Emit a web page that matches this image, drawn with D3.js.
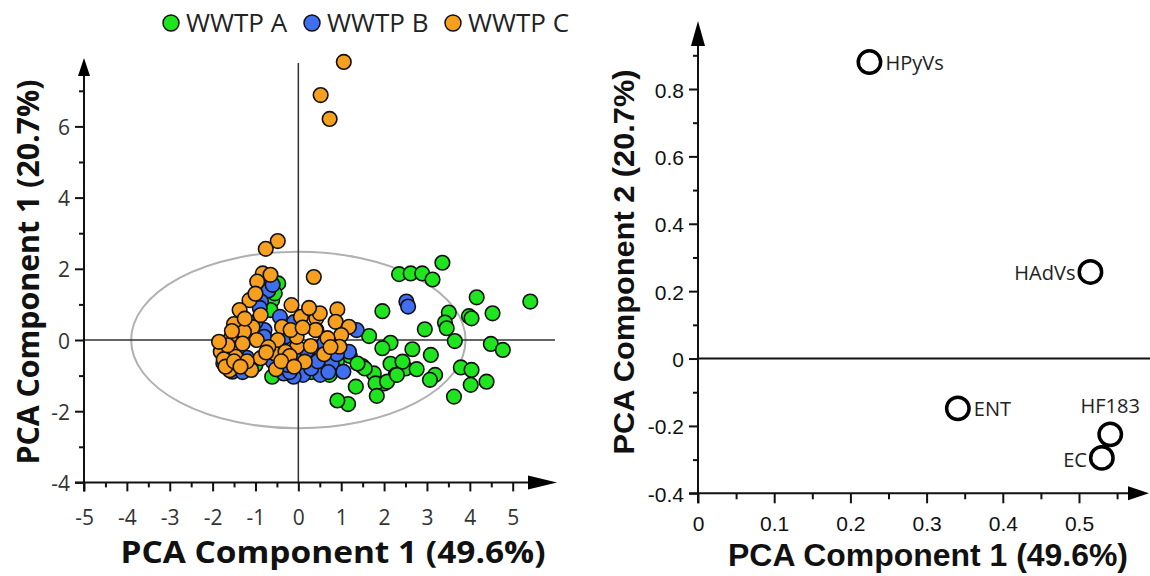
<!DOCTYPE html>
<html>
<head>
<meta charset="utf-8">
<script src="https://cdn.jsdelivr.net/npm/d3@7"></script>
<style>
  body { margin: 0; background: #fff; }
  svg { display: block; }
</style>
</head>
<body>
<script>
// sample scores, PC1 / PC2
var wwtpA = [
  [3.36,2.17],[2.35,1.85],[2.62,1.87],[2.89,1.87],[3.13,1.70],
  [1.96,0.81],[4.16,1.20],[5.41,1.08],[3.51,0.77],[3.98,0.67],[4.04,0.61],[4.53,0.75],
  [3.42,0.49],[3.46,0.33],[2.95,0.30],[3.65,-0.03],[4.49,-0.11],[4.77,-0.28],
  [1.65,0.11],[2.15,-0.08],[1.96,-0.23],[2.66,-0.26],[3.09,-0.42],
  [1.49,-0.73],[1.76,-0.94],[2.15,-0.67],[2.27,-0.98],[2.50,-0.80],[2.76,-0.82],[2.43,-0.61],
  [2.00,-1.22],[1.80,-1.22],[3.19,-0.98],[3.07,-1.12],[3.79,-0.77],[4.04,-0.84],[4.02,-1.26],[4.39,-1.17],
  [3.63,-1.59],[1.34,-1.31],[1.83,-1.57],[1.16,-1.80],[0.91,-1.70],
  [2.07,-1.17],[2.30,-0.98],[1.55,-0.80],[1.20,-0.45],
  [-0.47,1.59],[-0.61,1.12],[-0.65,0.84],[-0.61,-1.03],[0.73,-0.98],[1.38,-0.66],[-0.55,1.31],
  [0.90,-0.60],[-1.00,-0.70],[0.30,-0.90]
];
var wwtpB = [
  [2.52,1.08],[2.56,0.94],
  [-0.70,1.39],[-0.87,1.08],[-0.79,0.28],[1.36,0.28],[0.55,-0.37],[0.78,-0.66],[1.05,-0.89],
  [0.51,-0.98],[0.11,-0.98],[-0.11,-1.03],[-0.34,-0.94],[-1.54,-0.89],[1.18,-0.33],[-0.43,0.65],[-0.80,0.09],
  [-0.20,-0.90],[0.30,-0.80],[0.00,-0.50],[-0.60,-0.60],[-1.20,-0.50],[-1.00,0.50],[-0.90,0.90],[-0.60,1.55],
  [0.60,-0.10],[0.90,-0.40],[-0.30,0.10],[-1.60,-0.60],[-1.30,-0.90],[0.20,-0.30],[-0.10,0.50],[0.70,-0.90],
  [-0.50,-0.40],[-0.25,-0.70],[0.45,-0.60],[-1.40,0.10],[-1.75,-0.65]
];
var wwtpC = [
  [1.06,7.81],[0.52,6.88],[0.73,6.21],[-0.48,2.78],[-0.76,2.56],[0.36,1.77],
  [-0.83,1.87],[-0.65,1.83],[-0.96,1.64],[-1.14,1.12],[-1.37,0.84],[-1.50,0.45],[-1.59,0.02],[-1.81,-0.33],
  [-0.16,0.98],[0.91,0.86],[-0.38,0.37],[-0.88,0.70],[-1.10,0.28],[0.06,0.65],[0.42,0.61],[0.42,0.28],
  [0.87,0.51],[1.18,0.37],[1.00,0.14],[0.96,-0.19],[-0.56,-0.37],[-0.03,-0.19],[-0.88,-0.51],[-1.10,-0.84],
  [-0.52,-0.82],[0.15,-0.61],[-1.42,-0.23],[-1.07,0.36],[-0.97,0.00],[-0.48,0.00],[-0.04,0.09],[0.29,-0.17],
  [-0.30,-0.33],[-1.46,-0.47],[0.68,0.05],[-1.54,-0.70],[-1.74,-0.54],[-1.27,0.23],[-0.18,0.28],[0.40,0.28],
  [-1.65,-0.15],[-1.30,-0.10],[-1.20,-0.60],[-0.70,-0.20],[-0.20,-0.45],[0.10,0.35],[0.60,-0.40],[-1.55,0.25],
  [-1.00,1.30],[-0.75,-0.35],[-1.85,-0.05],[-1.60,-0.85],[-0.40,-0.60],[0.50,0.75],[0.25,0.90],[-1.25,0.60],
  [-0.10,-0.75],[0.75,-0.20],[-1.70,-0.75],[-1.50,-0.60],[-1.35,-0.75]
];
var groups = ["WWTP A", "WWTP B", "WWTP C"];
var groupColors = ["#1fe51f", "#3f6ef0", "#f7a01f"];

// loadings
var loadNames = ["HPyVs", "HAdVs", "ENT", "HF183", "EC"];
var loadX = [0.225, 0.515, 0.341, 0.541, 0.530];
var loadY = [0.880, 0.257, -0.148, -0.225, -0.295];

var xTicksL = d3.range(-5, 5.01, 0.5);
var yTicksL = d3.range(-4, 7.01, 1);
var xTicksR = d3.range(0, 0.551, 0.05);
var yTicksR = d3.range(-0.4, 0.901, 0.1);

var width = 1150, height = 576;
var sans = "'Open Sans', 'Noto Sans', sans-serif";
var arial = "'Liberation Sans', Arial, sans-serif";

var svg = d3.select("body").append("svg")
  .attr("width", width)
  .attr("height", height);

function isMajor(d, step) {
  return Math.abs(d / step - Math.round(d / step)) < 1e-6;
}
// plain hyphen minus like the original
function fmt(d) {
  return String(+d.toFixed(1));
}

// ---------- left: scores ----------
var xL = d3.scaleLinear().domain([-5, 5]).range([84, 512.7]);
var yL = d3.scaleLinear().domain([-4, 8]).range([482.4, 55.2]);

var left = svg.append("g");

// ellipse
left.append("ellipse")
  .attr("cx", xL(0)).attr("cy", yL(0))
  .attr("rx", xL(3.9) - xL(0)).attr("ry", yL(0) - yL(2.48))
  .attr("fill", "none").attr("stroke", "#b0b0b0").attr("stroke-width", 2);

// zero lines
left.append("line")
  .attr("x1", xL(0)).attr("x2", xL(0))
  .attr("y1", yL(-4)).attr("y2", 63)
  .attr("stroke", "#333").attr("stroke-width", 1.5);
left.append("line")
  .attr("x1", xL(-5)).attr("x2", 555)
  .attr("y1", yL(0)).attr("y2", yL(0))
  .attr("stroke", "#333").attr("stroke-width", 1.5);

// x axis
var gxL = left.append("g")
  .attr("transform", "translate(0," + yL(-4) + ")")
  .call(d3.axisBottom(xL).tickValues(xTicksL).tickSize(9)
    .tickFormat(d => isMajor(d, 1) ? fmt(d) : ""));
gxL.select(".domain").remove();
gxL.selectAll(".tick line")
  .attr("y2", d => isMajor(d, 1) ? 9 : 5)
  .attr("stroke", "#111").attr("stroke-width", 2);
gxL.selectAll(".tick text")
  .attr("y", 0).attr("dy", 43)
  .attr("fill", "#333")
  .style("font-family", sans).style("font-size", "21px");

// y axis
var gyL = left.append("g")
  .attr("transform", "translate(" + xL(-5) + ",0)")
  .call(d3.axisLeft(yL).tickValues(yTicksL).tickSize(8)
    .tickFormat(d => isMajor(d, 2) ? fmt(d) : ""));
gyL.select(".domain").remove();
gyL.selectAll(".tick line")
  .attr("x2", d => isMajor(d, 2) ? -9 : -5)
  .attr("stroke", "#111").attr("stroke-width", 2);
gyL.selectAll(".tick text")
  .attr("x", -14).attr("dy", 8)
  .attr("fill", "#333")
  .style("font-family", sans).style("font-size", "21px");

// axis lines + arrows
left.append("line")
  .attr("x1", 75).attr("x2", 540)
  .attr("y1", yL(-4)).attr("y2", yL(-4))
  .attr("stroke", "#111").attr("stroke-width", 2);
left.append("path")
  .attr("d", "M" + 528 + "," + (yL(-4) - 7) + "L" + 557 + "," + yL(-4) + "L" + 528 + "," + (yL(-4) + 7) + "Z")
  .attr("fill", "#000");
left.append("line")
  .attr("x1", xL(-5)).attr("x2", xL(-5))
  .attr("y1", yL(-4) + 9).attr("y2", 70)
  .attr("stroke", "#111").attr("stroke-width", 2);
left.append("path")
  .attr("d", "M" + (xL(-5) - 6) + ",76L" + xL(-5) + ",58L" + (xL(-5) + 6) + ",76Z")
  .attr("fill", "#000");

// points, A then B then C
[wwtpA, wwtpB, wwtpC].forEach(function(data, i) {
  left.append("g").selectAll("circle")
    .data(data)
    .enter().append("circle")
      .attr("cx", d => xL(d[0]))
      .attr("cy", d => yL(d[1]))
      .attr("r", 7.3)
      .attr("fill", groupColors[i])
      .attr("stroke", "#111")
      .attr("stroke-width", 1.6);
});

// legend
var legX = [171, 312, 453];
var leg = left.append("g").selectAll("g")
  .data(groups)
  .enter().append("g")
    .attr("transform", (d, i) => "translate(" + legX[i] + ",23)");
leg.append("circle")
  .attr("r", 8)
  .attr("fill", (d, i) => groupColors[i])
  .attr("stroke", "#111").attr("stroke-width", 1.5);
leg.append("text")
  .attr("x", 15).attr("y", 9)
  .style("font-family", sans).style("font-size", "26px")
  .attr("fill", "#222")
  .text(d => d);

// titles
left.append("text")
  .attr("x", 333).attr("y", 563)
  .attr("text-anchor", "middle")
  .attr("textLength", 425).attr("lengthAdjust", "spacingAndGlyphs")
  .style("font-family", sans).style("font-size", "31px").style("font-weight", "bold")
  .attr("fill", "#111")
  .text("PCA Component 1 (49.6%)");
left.append("text")
  .attr("transform", "translate(39,272) rotate(-90)")
  .attr("text-anchor", "middle")
  .attr("textLength", 385).attr("lengthAdjust", "spacingAndGlyphs")
  .style("font-family", sans).style("font-size", "30px").style("font-weight", "bold")
  .attr("fill", "#111")
  .text("PCA Component 1 (20.7%)");

// ---------- right: loadings ----------
var xR = d3.scaleLinear().domain([0, 0.5]).range([698, 1079]);
var yR = d3.scaleLinear().domain([-0.4, 0.8]).range([493.3, 89]);

var right = svg.append("g");

right.append("line")
  .attr("x1", xR(0)).attr("x2", 1150)
  .attr("y1", yR(0)).attr("y2", yR(0))
  .attr("stroke", "#111").attr("stroke-width", 2);

var gxR = right.append("g")
  .attr("transform", "translate(0," + yR(-0.4) + ")")
  .call(d3.axisBottom(xR).tickValues(xTicksR).tickSize(10)
    .tickFormat(d => isMajor(d, 0.1) ? fmt(d) : ""));
gxR.select(".domain").remove();
gxR.selectAll(".tick line")
  .attr("y2", d => isMajor(d, 0.1) ? 10 : 6)
  .attr("stroke", "#111").attr("stroke-width", 2);
gxR.selectAll(".tick text")
  .attr("y", 0).attr("dy", 38)
  .attr("fill", "#111")
  .style("font-family", arial).style("font-size", "21px");

var gyR = right.append("g")
  .attr("transform", "translate(" + xR(0) + ",0)")
  .call(d3.axisLeft(yR).tickValues(yTicksR).tickSize(8)
    .tickFormat(d => isMajor(d, 0.2) ? fmt(d) : ""));
gyR.select(".domain").remove();
gyR.selectAll(".tick line")
  .attr("x2", d => isMajor(d, 0.2) ? -9 : -5)
  .attr("stroke", "#111").attr("stroke-width", 2);
gyR.selectAll(".tick text")
  .attr("x", -14).attr("dy", 8)
  .attr("fill", "#111")
  .style("font-family", arial).style("font-size", "21px");

right.append("line")
  .attr("x1", xR(0) - 9).attr("x2", 1132)
  .attr("y1", yR(-0.4)).attr("y2", yR(-0.4))
  .attr("stroke", "#111").attr("stroke-width", 2);
right.append("path")
  .attr("d", "M1128," + (yR(-0.4) - 7) + "L1149," + yR(-0.4) + "L1128," + (yR(-0.4) + 7) + "Z")
  .attr("fill", "#000");
right.append("line")
  .attr("x1", xR(0)).attr("x2", xR(0))
  .attr("y1", yR(-0.4) + 10).attr("y2", 40)
  .attr("stroke", "#111").attr("stroke-width", 2);
right.append("path")
  .attr("d", "M" + (xR(0) - 7) + ",46L" + xR(0) + ",21L" + (xR(0) + 7) + ",46Z")
  .attr("fill", "#000");

// loading markers
var loads = loadNames.map((n, i) => ({ name: n, x: loadX[i], y: loadY[i] }));
var labelDx = [16, -15, 16, 0, -15];
var labelDy = [8, 8, 8, -21, 9];
var labelAnchor = ["start", "end", "start", "middle", "end"];

right.append("g").selectAll("circle")
  .data(loads)
  .enter().append("circle")
    .attr("cx", d => xR(d.x))
    .attr("cy", d => yR(d.y))
    .attr("r", 11.2)
    .attr("fill", "#fff")
    .attr("stroke", "#000")
    .attr("stroke-width", 3.5);
right.append("g").selectAll("text")
  .data(loads)
  .enter().append("text")
    .attr("x", (d, i) => xR(d.x) + labelDx[i])
    .attr("y", (d, i) => yR(d.y) + labelDy[i])
    .attr("text-anchor", (d, i) => labelAnchor[i])
    .style("font-family", sans).style("font-size", "20px")
    .attr("fill", "#222")
    .text(d => d.name);

right.append("text")
  .attr("x", 928).attr("y", 566)
  .attr("text-anchor", "middle")
  .attr("textLength", 400).attr("lengthAdjust", "spacingAndGlyphs")
  .style("font-family", arial).style("font-size", "31px").style("font-weight", "bold")
  .attr("fill", "#111")
  .text("PCA Component 1 (49.6%)");
right.append("text")
  .attr("transform", "translate(634,262) rotate(-90)")
  .attr("text-anchor", "middle")
  .attr("textLength", 385).attr("lengthAdjust", "spacingAndGlyphs")
  .style("font-family", arial).style("font-size", "30px").style("font-weight", "bold")
  .attr("fill", "#111")
  .text("PCA Component 2 (20.7%)");
</script>
</body>
</html>
